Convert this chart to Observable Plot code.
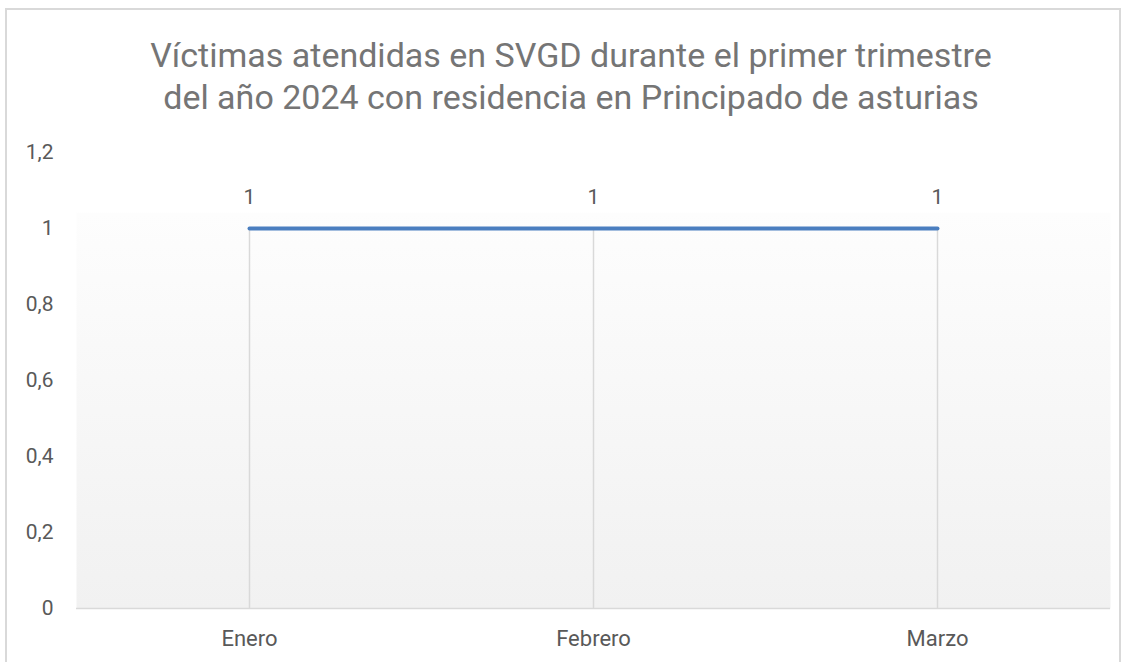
<!DOCTYPE html>
<html>
<head>
<meta charset="utf-8">
<script src="https://cdn.jsdelivr.net/npm/d3@7"></script>
<script src="https://cdn.jsdelivr.net/npm/@observablehq/plot@0.6"></script>
<style>
  html, body { margin: 0; padding: 0; background: #fff; }
  body { width: 1131px; height: 662px; overflow: hidden; position: relative; font-family: Roboto, "Noto Sans", sans-serif; }
  #frame { position: absolute; left: 5px; top: 8px; width: 1116px; height: 700px; border: 2px solid #d9d9d9; box-sizing: border-box; }
  #title { position: absolute; left: 0; top: 34px; width: 1142px; text-align: center; font-size: 34px; line-height: 42px; color: #757575; font-weight: 400; z-index: 2; }
  #chart { position: absolute; left: 0; top: 0; }
</style>
</head>
<body>
<div id="frame"></div>
<div id="title">Víctimas atendidas en SVGD durante el primer trimestre<br>del año 2024 con residencia en Principado de asturias</div>
<div id="chart"></div>
<script>
const months = ["Enero", "Febrero", "Marzo"];
const victims = [1, 1, 1];
const yTicks = [0, 0.2, 0.4, 0.6, 0.8, 1, 1.2];

const data = months.map((m, i) => ({month: m, value: victims[i]}));
const fmt = v => String(v).replace(".", ",");

const plot = Plot.plot({
  width: 1131,
  height: 662,
  marginTop: 152,
  marginBottom: 54,
  marginLeft: 76,
  marginRight: 21,
  style: {fontFamily: "Roboto, 'Noto Sans', sans-serif", fontSize: "22px", color: "#595959", background: "transparent"},
  x: {type: "point", domain: months, padding: 0.5, label: null},
  y: {domain: [0, 1.2], label: null},
  marks: [
    Plot.frame({fill: "url(#plotGrad)", stroke: "none"}),
    Plot.axisY({ticks: yTicks, tickFormat: fmt, tickSize: 0, tickPadding: 23, fontSize: 21, fill: "#595959"}),
    Plot.axisX({tickSize: 0, tickPadding: 22, fontSize: 22, fill: "#595959"}),
    Plot.ruleY([0], {stroke: "#d9d9d9", strokeWidth: 1.5}),
    Plot.ruleX(data, {x: "month", y1: 0, y2: "value", stroke: "#d9d9d9", strokeWidth: 1.5}),
    Plot.line(data, {x: "month", y: "value", stroke: "#4a7ebf", strokeWidth: 4, strokeLinecap: "round"}),
    Plot.text(data, {x: "month", y: "value", text: d => fmt(d.value), dy: -31, fontSize: 21, fill: "#595959"})
  ]
});

// gradient definition for the plot-area fill
const svgNS = "http://www.w3.org/2000/svg";
const defs = document.createElementNS(svgNS, "defs");
defs.innerHTML = `<linearGradient id="plotGrad" x1="0" y1="0" x2="0" y2="1">
  <stop offset="0" stop-color="#ffffff" stop-opacity="0"/>
  <stop offset="0.131" stop-color="#ffffff" stop-opacity="0"/>
  <stop offset="0.132" stop-color="#fdfdfd"/>
  <stop offset="1" stop-color="#f1f1f1"/>
</linearGradient>`;
plot.insertBefore(defs, plot.firstChild);
document.getElementById("chart").appendChild(plot);
</script>
</body>
</html>
